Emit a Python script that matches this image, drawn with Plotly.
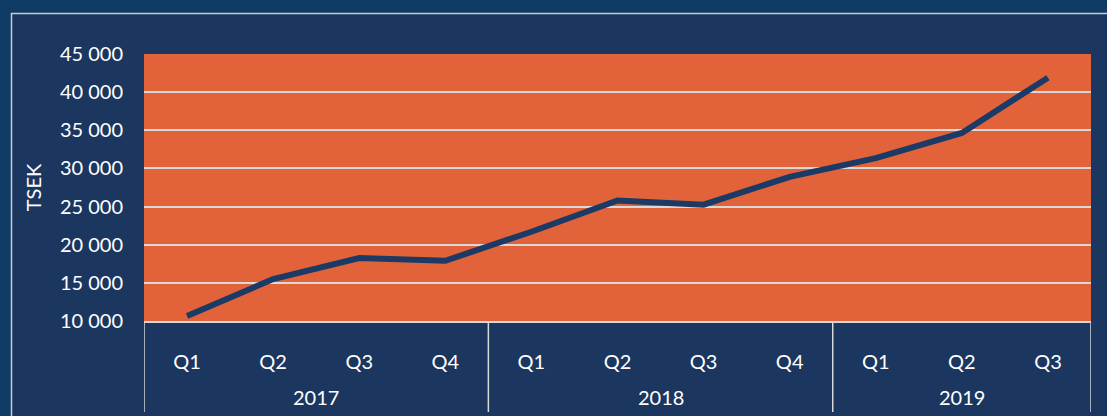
import plotly.graph_objects as go

years = ["2017"] * 4 + ["2018"] * 4 + ["2019"] * 3
quarters = ["Q1", "Q2", "Q3", "Q4", "Q1", "Q2", "Q3", "Q4", "Q1", "Q2", "Q3"]
values = [10650, 15500, 18250, 17900, 21700, 25800, 25250, 28900, 31350, 34650, 41900]
y_ticks = [10000, 15000, 20000, 25000, 30000, 35000, 40000, 45000]
y_title = "TSEK"

W, H = 1107, 416
L, R, T, B = 144, 16, 54, 95
PW, PH = W - L - R, H - T - B

OUTER = "#103b64"
INNER = "#1b365f"
ORANGE = "#e2633a"
LINE = "#1c3a66"
GRID = "#d9d9d9"
BORDER = "#c8ccd4"
FONT = "Lato"


def px_x(p):
    return (p - L) / PW


def px_y(p):
    return 1 - (p - T) / PH


idx = list(range(len(values)))

# year groups: start/end index
groups = []
for i, yv in enumerate(years):
    if not groups or groups[-1][0] != yv:
        groups.append([yv, i, i])
    else:
        groups[-1][2] = i

fig = go.Figure()
fig.add_trace(go.Scatter(
    x=idx, y=values, mode="lines",
    line=dict(color=LINE, width=6), hoverinfo="skip", showlegend=False,
))

shapes = [
    # outer strips
    dict(type="rect", xref="paper", yref="paper", x0=px_x(0), x1=px_x(11), y0=px_y(H + 5), y1=px_y(-5),
         fillcolor=OUTER, line=dict(width=0), layer="below"),
    dict(type="rect", xref="paper", yref="paper", x0=px_x(0), x1=px_x(W + 5), y0=px_y(13), y1=px_y(-5),
         fillcolor=OUTER, line=dict(width=0), layer="below"),
    # border of inner box
    dict(type="line", xref="paper", yref="paper", x0=px_x(11.5), x1=px_x(11.5), y0=px_y(13), y1=px_y(H + 5),
         line=dict(color=BORDER, width=1.5)),
    dict(type="line", xref="paper", yref="paper", x0=px_x(11), x1=px_x(W + 5), y0=px_y(13.5), y1=px_y(13.5),
         line=dict(color=BORDER, width=1.5)),
]

annotations = []
bounds = sorted({g[1] - 0.5 for g in groups} | {g[2] + 0.5 for g in groups})
for b in bounds:
    shapes.append(dict(type="line", xref="x", yref="paper", x0=b, x1=b, y0=0, y1=px_y(412),
                       line=dict(color=GRID, width=1.5)))
for name, s, e in groups:
    annotations.append(dict(x=(s + e) / 2, xref="x", y=px_y(397), yref="paper", text=name,
                            showarrow=False, xanchor="center", yanchor="middle",
                            font=dict(family=FONT, size=20, color="white")))

fig.update_layout(
    width=W, height=H,
    margin=dict(l=L, r=R, t=T, b=B, pad=0),
    paper_bgcolor=INNER, plot_bgcolor=ORANGE,
    separators=". ",
    font=dict(family=FONT, size=20, color="white"),
    shapes=shapes, annotations=annotations,
    showlegend=False,
)

fig.update_xaxes(
    range=[-0.5, len(values) - 0.5],
    tickvals=idx, ticktext=quarters,
    showgrid=False, zeroline=False,
    showline=True, linecolor=GRID, linewidth=1.5,
    ticks="", ticklabelstandoff=22,
    tickfont=dict(family=FONT, size=20, color="white"),
)

fig.update_yaxes(
    range=[10000, 45000], tickvals=y_ticks, tickformat=",d",
    showgrid=True, gridcolor=GRID, gridwidth=1.5,
    zeroline=False, showline=False,
    ticks="", ticklabelstandoff=20,
    tickfont=dict(family=FONT, size=20, color="white"),
    title=dict(text=y_title, font=dict(family=FONT, size=20, color="white"), standoff=12),
)

fig.write_html("out.html")
